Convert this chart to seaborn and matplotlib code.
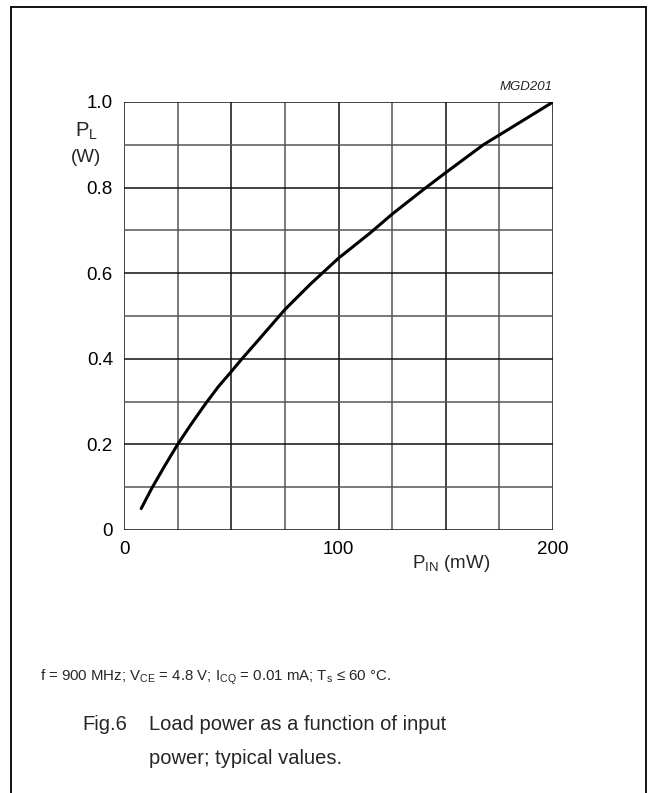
import numpy as np
import pandas as pd
import matplotlib
matplotlib.use('Agg')
import matplotlib.pyplot as plt
import seaborn as sns
from matplotlib.lines import Line2D

# Curve (Fig.6, MGD201)
p_in = [8, 13, 19, 25, 31, 38, 44, 50, 55, 62, 75, 87, 100, 115, 125, 140, 150, 167.5, 175, 188, 200]
p_load = [0.05, 0.098, 0.15, 0.20, 0.245, 0.295, 0.335, 0.37, 0.40, 0.44, 0.515, 0.575, 0.635, 0.695, 0.738, 0.797, 0.835, 0.90, 0.923, 0.963, 1.0]

x_ticks = [0, 100, 200]
x_tick_labels = ['0', '100', '200']
y_ticks = [0, 0.2, 0.4, 0.6, 0.8, 1.0]
y_tick_labels = ['0', '0.2', '0.4', '0.6', '0.8', '1.0']

df = pd.DataFrame({'p_in': p_in, 'p_load': p_load})

sns.set_theme(style='white')
plt.rcParams['font.family'] = ['Liberation Sans', 'DejaVu Sans']
plt.rcParams['mathtext.fontset'] = 'custom'
plt.rcParams['mathtext.rm'] = 'Liberation Sans'
plt.rcParams['mathtext.it'] = 'Liberation Sans:italic'

fig = plt.figure(figsize=(6.55, 7.93), dpi=100)
ax = fig.add_axes([124 / 655, 1 - 530 / 793, 429 / 655, 428 / 793])

# grid
for i, gx in enumerate(np.arange(0, 201, 25)):
    ax.axvline(gx, color='#555555' if i % 2 else '#111111', lw=1.1, zorder=1)
for i, gy in enumerate(np.arange(0, 1.01, 0.1)):
    ax.axhline(gy, color='#555555' if i % 2 else '#111111', lw=1.1, zorder=1)

sns.lineplot(data=df, x='p_in', y='p_load', ax=ax, color='black', lw=2.2, zorder=3)

ax.set_xlim(0, 200)
ax.set_ylim(0, 1.0)
ax.set_xticks(x_ticks)
ax.set_xticklabels(x_tick_labels)
ax.set_yticks(y_ticks)
ax.set_yticklabels(y_tick_labels)
ax.tick_params(axis='both', length=0, labelsize=13.5, colors='black')
ax.tick_params(axis='x', pad=8)
ax.tick_params(axis='y', pad=8)
ax.set_xlabel('')
ax.set_ylabel('')
for s in ax.spines.values():
    s.set_visible(False)

# axis labels placed like the datasheet
fig.text(86 / 655, 1 - 131 / 793, r'$\mathregular{P_L}$', fontsize=14.5, ha='center', va='center')
fig.text(86 / 655, 1 - 157 / 793, '(W)', fontsize=13.5, ha='center', va='center')
fig.text(451 / 655, 1 - 564 / 793, r'$\mathregular{P_{IN}}$ (mW)', fontsize=13.5, ha='center', va='center')
fig.text(553 / 655, 1 - 87 / 793, 'MGD201', fontsize=9.5, style='italic', ha='right', va='center')

fig.text(40 / 655, 1 - 677 / 793,
         r'f = 900 MHz; $\mathregular{V_{CE}}$ = 4.8 V; $\mathregular{I_{CQ}}$ = 0.01 mA; $\mathregular{T_s}$ ≤ 60 °C.',
         fontsize=10.8, ha='left', va='center')
fig.text(82 / 655, 1 - 725 / 793, 'Fig.6', fontsize=14.5, ha='left', va='center')
fig.text(149 / 655, 1 - 725 / 793, 'Load power as a function of input', fontsize=14.5, ha='left', va='center')
fig.text(149 / 655, 1 - 758 / 793, 'power; typical values.', fontsize=14.5, ha='left', va='center')

# outer frame (open at the bottom)
fx0, fx1, fy = 11 / 655, 646 / 655, 1 - 7 / 793
fig.add_artist(Line2D([fx0, fx0], [0, fy], color='black', lw=1.3))
fig.add_artist(Line2D([fx0, fx1], [fy, fy], color='black', lw=1.3))
fig.add_artist(Line2D([fx1, fx1], [0, fy], color='black', lw=1.3))

fig.savefig('out.png', dpi=100)
